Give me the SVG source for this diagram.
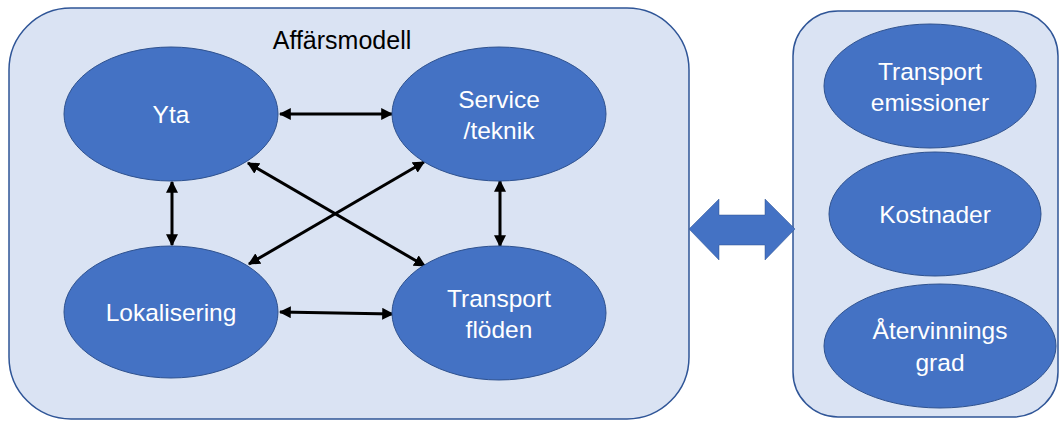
<svg xmlns="http://www.w3.org/2000/svg" width="1059" height="421" viewBox="0 0 1059 421">
<style>
.box{fill:#DAE3F3;stroke:#2F5597;stroke-width:1.5}
.node{fill:#4472C4;stroke:#2F528F;stroke-width:1}
.lbl{fill:#fff;font-family:"Liberation Sans",Arial,sans-serif;font-size:24.5px;text-anchor:middle}
.title{fill:#000;font-family:"Liberation Sans",Arial,sans-serif;font-size:25px;text-anchor:middle}
.con{stroke:#000;stroke-width:3;fill:none;marker-start:url(#ah);marker-end:url(#ah)}
</style>
<defs>
<marker id="ah" viewBox="0 0 10 10" refX="9" refY="5" markerWidth="4" markerHeight="4" orient="auto-start-reverse" markerUnits="strokeWidth">
<path d="M0,0 L10,5 L0,10 z" fill="#000"/>
</marker>
</defs>
<rect width="1059" height="421" fill="#fff"/>
<g id="affarsmodell">
<rect class="box" x="9" y="8" width="680" height="411" rx="62" ry="62"/>
<text class="title" x="342" y="49">Affärsmodell</text>
</g>
<g id="right-panel">
<rect class="box" x="793" y="11" width="265" height="406" rx="45" ry="45"/>
</g>
<g id="block-arrow">
<polygon points="689,229 719,199 719,215 765,215 765,199 795,229 765,260 765,245 719,245 719,260" fill="#4472C4" stroke="#2F528F" stroke-width="0.5"/>
</g>
<g id="connectors">
<line class="con" x1="280" y1="114" x2="392" y2="114"/>
<line class="con" x1="172" y1="182" x2="172" y2="245"/>
<line class="con" x1="500" y1="181" x2="500" y2="246"/>
<line class="con" x1="280" y1="312" x2="393" y2="314"/>
<line class="con" x1="248" y1="163" x2="425" y2="266"/>
<line class="con" x1="424" y1="162" x2="249" y2="264"/>
</g>
<g id="yta">
<ellipse class="node" cx="171" cy="114" rx="107" ry="67"/>
<text class="lbl" x="171" y="123">Yta</text>
</g>
<g id="service">
<ellipse class="node" cx="499" cy="114" rx="107" ry="67"/>
<text class="lbl" x="499" y="108">Service</text>
<text class="lbl" x="499" y="139">/teknik</text>
</g>
<g id="lokalisering">
<ellipse class="node" cx="171" cy="312" rx="107" ry="66"/>
<text class="lbl" x="171" y="321">Lokalisering</text>
</g>
<g id="transportfloden">
<ellipse class="node" cx="499" cy="313" rx="107" ry="67"/>
<text class="lbl" x="499" y="307">Transport</text>
<text class="lbl" x="499" y="338">flöden</text>
</g>
<g id="emissioner">
<ellipse class="node" cx="930" cy="86" rx="106" ry="62"/>
<text class="lbl" x="930" y="80">Transport</text>
<text class="lbl" x="930" y="111">emissioner</text>
</g>
<g id="kostnader">
<ellipse class="node" cx="935" cy="214" rx="106" ry="62"/>
<text class="lbl" x="935" y="223">Kostnader</text>
</g>
<g id="atervinning">
<ellipse class="node" cx="940" cy="346" rx="116" ry="62"/>
<text class="lbl" x="940" y="339">Återvinnings</text>
<text class="lbl" x="940" y="371">grad</text>
</g>
</svg>
